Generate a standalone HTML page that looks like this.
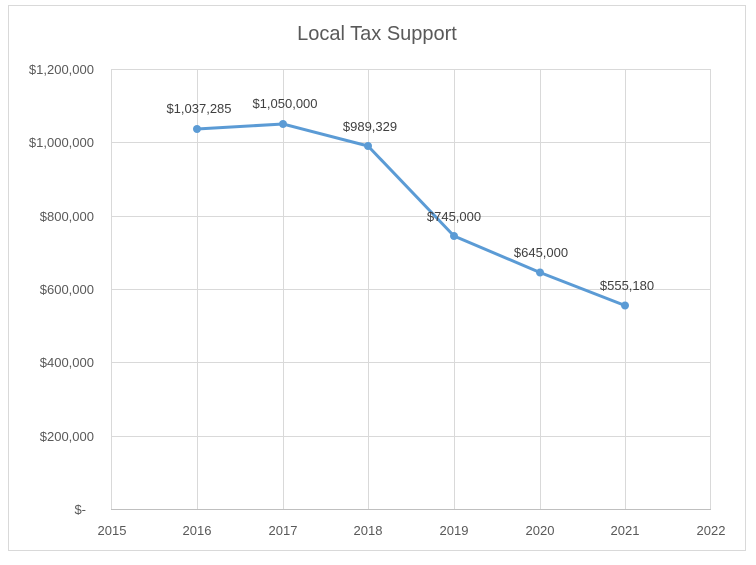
<!DOCTYPE html>
<html><head><style>body{margin:0;background:#fff}</style></head><body>
<svg width="756" height="560" xmlns="http://www.w3.org/2000/svg" font-family="Liberation Sans, sans-serif">
<rect x="8.5" y="5.5" width="737" height="545" fill="#fff" stroke="#d9d9d9"/>
<text x="377" y="40" font-size="20" fill="#595959" text-anchor="middle">Local Tax Support</text>
<g stroke="#d9d9d9" stroke-width="1">
<line x1="111" y1="69.5" x2="711" y2="69.5"/>
<line x1="111" y1="142.5" x2="711" y2="142.5"/>
<line x1="111" y1="216.5" x2="711" y2="216.5"/>
<line x1="111" y1="289.5" x2="711" y2="289.5"/>
<line x1="111" y1="362.5" x2="711" y2="362.5"/>
<line x1="111" y1="436.5" x2="711" y2="436.5"/>
<line x1="111.5" y1="69" x2="111.5" y2="509"/>
<line x1="197.5" y1="69" x2="197.5" y2="509"/>
<line x1="283.5" y1="69" x2="283.5" y2="509"/>
<line x1="368.5" y1="69" x2="368.5" y2="509"/>
<line x1="454.5" y1="69" x2="454.5" y2="509"/>
<line x1="540.5" y1="69" x2="540.5" y2="509"/>
<line x1="625.5" y1="69" x2="625.5" y2="509"/>
<line x1="710.5" y1="69" x2="710.5" y2="509"/>
</g>
<line x1="111" y1="509.5" x2="711" y2="509.5" stroke="#bfbfbf"/>
<g font-size="13" fill="#595959" text-anchor="end">
<text x="94" y="74">$1,200,000</text>
<text x="94" y="147">$1,000,000</text>
<text x="94" y="221">$800,000</text>
<text x="94" y="294">$600,000</text>
<text x="94" y="367">$400,000</text>
<text x="94" y="441">$200,000</text>
<text x="86" y="514">$-</text>
</g>
<g font-size="13" fill="#595959" text-anchor="middle">
<text x="112" y="535">2015</text><text x="197" y="535">2016</text><text x="283" y="535">2017</text><text x="368" y="535">2018</text><text x="454" y="535">2019</text><text x="540" y="535">2020</text><text x="625" y="535">2021</text><text x="711" y="535">2022</text>
</g>
<polyline fill="none" stroke="#5b9bd5" stroke-width="3" stroke-linejoin="round" points="197,129 283,124 368,146 454,236 540,272.5 625,305.5"/>
<g fill="#5b9bd5">
<circle cx="197" cy="129" r="4"/><circle cx="283" cy="124" r="4"/><circle cx="368" cy="146" r="4"/><circle cx="454" cy="236" r="4"/><circle cx="540" cy="272.5" r="4"/><circle cx="625" cy="305.5" r="4"/>
</g>
<g font-size="13" fill="#404040" text-anchor="middle">
<text x="199" y="113">$1,037,285</text>
<text x="285" y="108">$1,050,000</text>
<text x="370" y="131">$989,329</text>
<text x="454" y="221">$745,000</text>
<text x="541" y="257">$645,000</text>
<text x="627" y="290">$555,180</text>
</g>
</svg>
</body></html>
